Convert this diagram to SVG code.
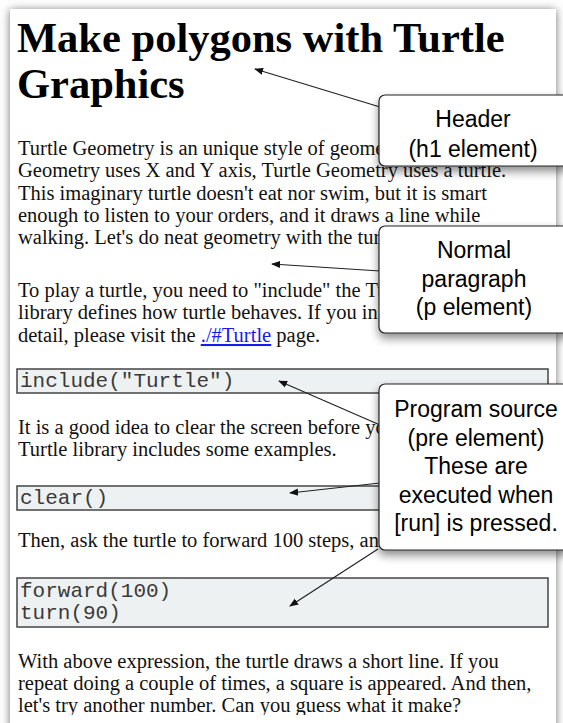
<svg xmlns="http://www.w3.org/2000/svg" width="563" height="723" viewBox="0 0 563 723">
<defs>
<filter id="pageShadow" x="-5%" y="-5%" width="110%" height="110%">
<feGaussianBlur in="SourceAlpha" stdDeviation="4"/>
<feOffset dx="0" dy="1"/>
<feComponentTransfer><feFuncA type="linear" slope="0.55"/></feComponentTransfer>
<feMerge><feMergeNode/><feMergeNode in="SourceGraphic"/></feMerge>
</filter>
<filter id="boxShadow" x="-20%" y="-20%" width="140%" height="150%">
<feGaussianBlur in="SourceAlpha" stdDeviation="5"/>
<feOffset dx="0" dy="5"/>
<feComponentTransfer><feFuncA type="linear" slope="0.45"/></feComponentTransfer>
<feMerge><feMergeNode/><feMergeNode in="SourceGraphic"/></feMerge>
</filter>
<marker id="arrow" viewBox="0 0 10 10" refX="9" refY="5" markerWidth="9" markerHeight="9" markerUnits="userSpaceOnUse" orient="auto">
<path d="M0,1 L10,5 L0,9 z" fill="#111"/>
</marker>
<clipPath id="pageClip"><rect x="10" y="9" width="546" height="706"/></clipPath>
</defs>
<style>
.body{font-family:"Liberation Serif","Times New Roman",serif;font-size:20.5px;fill:#111}
.h1{font-family:"Liberation Serif","Times New Roman",serif;font-size:42.5px;font-weight:bold;fill:#000}
.mono{font-family:"Liberation Mono","Courier New",monospace;font-size:21px;fill:#3a3a3a}
.pre{fill:#eef1f1;stroke:#444;stroke-width:1.5}
.callout{fill:#fff;stroke:#222;stroke-width:1.2}
.ctext{font-family:"Liberation Sans",Arial,sans-serif;font-size:23px;fill:#000;text-anchor:middle}
.conn{stroke:#222;stroke-width:1.2;fill:none;marker-end:url(#arrow)}
.link{fill:#1a1aee}
</style>
<rect width="563" height="723" fill="#fdfdfd"/>
<rect x="10" y="9" width="546" height="730" fill="#fff" filter="url(#pageShadow)"/>
<g id="page" clip-path="url(#pageClip)">
<text class="h1" x="17" y="52">Make polygons with Turtle</text>
<text class="h1" x="17" y="98">Graphics</text>
<text class="body" x="18" y="155">Turtle Geometry is an unique style of geometry</text>
<text class="body" x="18" y="177">Geometry uses X and Y axis, Turtle Geometry uses a turtle.</text>
<text class="body" x="18" y="200">This imaginary turtle doesn't eat nor swim, but it is smart</text>
<text class="body" x="18" y="222">enough to listen to your orders, and it draws a line while</text>
<text class="body" x="18" y="244">walking. Let's do neat geometry with the turtle</text>
<text class="body" x="18" y="297">To play a turtle, you need to "include" the Turtle</text>
<text class="body" x="18" y="319">library defines how turtle behaves. If you in</text>
<text class="body" x="18" y="342">detail, please visit the <tspan class="link" text-decoration="underline">./#Turtle</tspan> page.</text>
<rect class="pre" x="17" y="369" width="531" height="24"/>
<text class="mono" x="20" y="387">include("Turtle")</text>
<text class="body" x="18" y="434">It is a good idea to clear the screen before you</text>
<text class="body" x="18" y="456">Turtle library includes some examples.</text>
<rect class="pre" x="17" y="486" width="531" height="24"/>
<text class="mono" x="20" y="504">clear()</text>
<text class="body" x="18" y="547">Then, ask the turtle to forward 100 steps, and</text>
<rect class="pre" x="17" y="578" width="531" height="49"/>
<text class="mono" x="20" y="597">forward(100)</text>
<text class="mono" x="20" y="619">turn(90)</text>
<text class="body" x="18" y="668">With above expression, the turtle draws a short line. If you</text>
<text class="body" x="18" y="690">repeat doing a couple of times, a square is appeared. And then,</text>
<text class="body" x="18" y="712">let's try another number. Can you guess what it make?</text>
</g>
<g id="connectors">
<line class="conn" x1="380" y1="107" x2="255" y2="69"/>
<line class="conn" x1="380" y1="271" x2="272" y2="264"/>
<line class="conn" x1="380" y1="425" x2="279" y2="381"/>
<line class="conn" x1="380" y1="483" x2="290" y2="493"/>
<line class="conn" x1="378" y1="549" x2="290" y2="606"/>
</g>
<g id="callout-header">
<rect class="callout" x="379" y="95" width="200" height="71" rx="6" filter="url(#boxShadow)"/>
<text class="ctext" x="473" y="127">Header</text>
<text class="ctext" x="473" y="157">(h1 element)</text>
</g>
<g id="callout-paragraph">
<rect class="callout" x="379" y="226" width="200" height="107" rx="6" filter="url(#boxShadow)"/>
<text class="ctext" x="474" y="258">Normal</text>
<text class="ctext" x="474" y="287">paragraph</text>
<text class="ctext" x="474" y="315">(p element)</text>
</g>
<g id="callout-pre">
<rect class="callout" x="379" y="384" width="200" height="166" rx="6" filter="url(#boxShadow)"/>
<text class="ctext" x="476" y="417">Program source</text>
<text class="ctext" x="476" y="446">(pre element)</text>
<text class="ctext" x="476" y="474">These are</text>
<text class="ctext" x="476" y="503">executed when</text>
<text class="ctext" x="476" y="531">[run] is pressed.</text>
</g>
</svg>
